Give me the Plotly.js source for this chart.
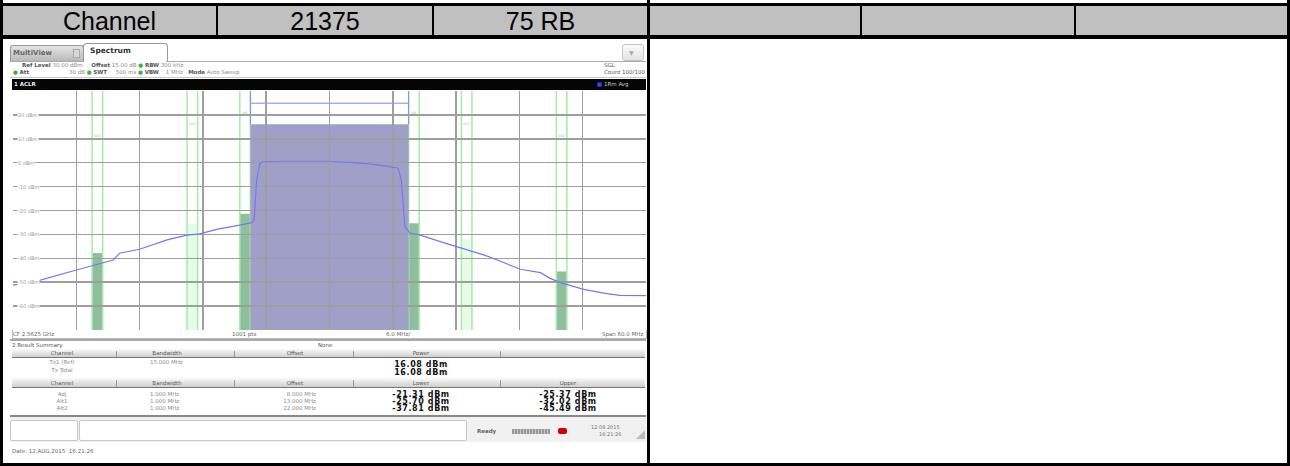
<!DOCTYPE html>
<html><head><meta charset="utf-8">
<script src="https://cdn.plot.ly/plotly-3.0.1.min.js"></script>
<style>
html,body{margin:0;padding:0;background:#fff;}
body{width:1290px;height:466px;position:relative;overflow:hidden;font-family:"DejaVu Sans",sans-serif;}
.a{position:absolute;}
.blk{position:absolute;background:#000;}
.hdr{position:absolute;top:6px;height:29px;background:#c0c0c0;font-family:"Liberation Sans",Arial,sans-serif;font-size:25px;line-height:30px;text-align:center;color:#000;}
.t{position:absolute;white-space:nowrap;font-size:5.5px;line-height:7px;color:#8a8a8a;}
.d{color:#555;font-weight:bold;}
.g{color:#3cb043;}
.c{position:absolute;white-space:nowrap;font-size:5.5px;line-height:6px;color:#8a8a8a;transform:translateX(-50%);}
.v{position:absolute;white-space:nowrap;font-size:8px;line-height:6px;color:#111;font-weight:bold;letter-spacing:0.6px;transform:translateX(-50%);}
.th{position:absolute;left:12px;width:633px;background:linear-gradient(#fafafa,#cfcfcf);border-bottom:1px solid #777;}
.sep{position:absolute;width:1px;background:#999;}
</style></head>
<body>
<div id="hdrs"></div>
<!-- spectrum screenshot chrome -->
<div class="a" style="left:10px;top:45px;width:72px;height:15px;background:linear-gradient(#e4e4e4,#b9b9b9);border:1px solid #9a9a9a;border-bottom:none;border-radius:3px 3px 0 0;"></div>
<div class="t" style="left:13px;top:49px;font-size:7px;line-height:9px;color:#666;font-weight:bold;">MultiView</div>
<div class="a" style="left:73px;top:49px;width:5px;height:7px;border:1px solid #aaa;background:#d8d8d8;"></div>
<div class="a" style="left:83px;top:43px;width:83px;height:18px;background:#fff;border:1px solid #9a9a9a;border-bottom:none;border-radius:4px 4px 0 0;"></div>
<div class="t" style="left:90px;top:46px;font-size:7.5px;line-height:9px;color:#333;font-weight:bold;">Spectrum</div>
<div class="a" style="left:166px;top:61px;width:480px;height:1px;background:#aaa;"></div>
<div class="a" style="left:10px;top:61px;width:73px;height:1px;background:#aaa;"></div>
<div class="a" style="left:622px;top:44px;width:20px;height:15px;background:linear-gradient(#fafafa,#e4e4e4);border:1px solid #c4c4c4;border-radius:3px;"></div>
<div class="t" style="left:629px;top:49px;font-size:6px;color:#aaa;">&#9660;</div>

<div class="t" style="left:22px;top:62px;"><span class="d">Ref Level</span> 30.00 dBm &nbsp;&nbsp;&nbsp;&nbsp;<span class="d">Offset</span> 15.00 dB <span class="g">&#9679;</span> <span class="d">RBW</span> 300 kHz</div>
<div class="t" style="left:13px;top:69px;"><span class="g">&#9679;</span> <span class="d">Att</span></div>
<div class="t" style="left:69px;top:69px;">30 dB <span class="g">&#9679;</span> <span class="d">SWT</span> &nbsp;&nbsp;&nbsp;&nbsp;500 ms <span class="g">&#9679;</span> <span class="d">VBW</span> &nbsp;&nbsp;&nbsp;1 MHz &nbsp;&nbsp;<span class="d">Mode</span> Auto Sweep</div>
<div class="t" style="left:604px;top:62px;color:#555;">SGL</div>
<div class="t" style="left:604px;top:69px;color:#555;">Count 100/100</div>
<div class="a" style="left:10px;top:77px;width:636px;height:1px;background:#c8c8c8;"></div>

<div class="a" style="left:12px;top:79px;width:634px;height:11px;background:#050505;"></div>
<div class="t" style="left:14px;top:81px;color:#eee;font-weight:bold;">1 ACLR</div>
<div class="t" style="left:597px;top:81px;color:#ccc;"><span style="color:#3344ff;">&#9632;</span> 1Rm Avg</div>

<div id="plot" class="a" style="left:13px;top:91px;width:633px;height:239px;"></div>

<div class="a" style="left:12px;top:330px;width:633px;height:8px;border:1px solid #b8b8b8;border-top:none;background:#fff;"></div>
<div class="t" style="left:13px;top:331px;color:#666;">CF 2.5625 GHz</div>
<div class="t" style="left:232px;top:331px;color:#666;">1001 pts</div>
<div class="t" style="left:386px;top:331px;color:#666;">6.0 MHz/</div>
<div class="t" style="left:602px;top:331px;color:#666;">Span 60.0 MHz</div>
<div class="a" style="left:10px;top:339px;width:636px;height:2px;background:#a8a8a8;"></div>
<div class="t" style="left:12px;top:342px;color:#555;">2 Result Summary</div>
<div class="t" style="left:318px;top:342px;color:#555;">None</div>

<div id="table"></div>

<div class="a" style="left:10px;top:415px;width:636px;height:2px;background:#888;"></div>
<div class="a" style="left:10px;top:417px;width:636px;height:25px;background:#f1f1f1;"></div>
<div class="a" style="left:10px;top:420px;width:66px;height:19px;background:#fff;border:1px solid #c8c8c8;border-radius:2px;"></div>
<div class="a" style="left:79px;top:420px;width:386px;height:19px;background:#fff;border:1px solid #c8c8c8;border-radius:2px;"></div>
<div class="t" style="left:477px;top:428px;color:#666;font-weight:bold;">Ready</div>
<div class="a" style="left:512px;top:429px;width:38px;height:5px;background:repeating-linear-gradient(90deg,#9a9a9a 0 2px,#c4c4c4 2px 3px);"></div>
<div class="a" style="left:558px;top:428px;width:9px;height:6px;background:#d20000;border-radius:2px;"></div>
<div class="t" style="left:591px;top:424px;color:#777;font-size:5px;">12.08.2015</div>
<div class="t" style="left:599px;top:431px;color:#777;font-size:5px;">16:21:26</div>
<div class="a" style="left:636px;top:430px;width:0;height:0;border-left:9px solid transparent;border-bottom:9px solid #bbb;"></div>
<div class="t" style="left:12px;top:448px;color:#666;">Date: 12.AUG.2015 &nbsp;16:21:26</div>

<div id="lines"></div>

<script>
// ---- header row ----
const headerCells = ['Channel', '21375', '75 RB', '', '', ''];

// ---- ACLR measurement (MHz, dBm) ----
const txName = 'Tx1 (Ref)';
const txBandwidthMHz = 15.0;
const txPowerDbm = 16.08;
const txTotalDbm = 16.08;
const adjNames = ['Adj', 'Alt1', 'Alt2'];
const adjBandwidthMHz = [1.0, 1.0, 1.0];
const adjOffsetMHz = [8.0, 13.0, 22.0];
const adjLowerDbm = [-21.31, -25.70, -37.81];
const adjUpperDbm = [-25.37, -32.02, -45.49];

// ---- spectrum trace (offset from CF in MHz, level in dBm) ----
const freqMHz = [-30.0, -27.4, -24.0, -21.8, -20.5, -19.9, -18.0, -15.4, -13.5, -12.3, -10.7, -8.5, -7.4, -7.15, -6.9, -6.6, -6.3, -4.5, -2.8, 0.0, 2.2, 4.0, 5.4, 6.5, 6.8, 7.0, 7.15, 7.6, 8.6, 10.5, 12.1, 14.9, 15.9, 18.1, 20.0, 20.9, 21.9, 24.1, 26.0, 27.5, 30.0];
const levelDbm = [-51.2, -49.1, -44.9, -42.1, -40.7, -37.9, -36.2, -32.3, -30.3, -29.8, -27.9, -26.1, -25.1, -24.0, -7.2, -0.3, 0.4, 0.6, 0.7, 0.6, 0.0, -0.6, -1.4, -2.3, -7.2, -21.2, -26.7, -29.3, -30.3, -33.0, -35.1, -39.0, -40.7, -44.6, -46.0, -48.4, -50.2, -53.0, -54.6, -55.5, -55.6];

// ---- axes ----
const spanMHz = [-30, 30];
const levelRange = [-70, 30];
const yTickVals = [20, 10, 0, -10, -20, -30, -40, -50, -60];

// ---------- HTML table frame ----------
(function(){
  const h = document.getElementById('hdrs');
  const cellX = [[3,216],[218,432],[434,647],[650,860],[862,1074],[1076,1287]];
  headerCells.forEach((txt,i)=>{
    const d = document.createElement('div');
    d.className='hdr';
    d.style.left=cellX[i][0]+'px'; d.style.width=(cellX[i][1]-cellX[i][0])+'px';
    d.textContent=txt; h.appendChild(d);
  });
  const L = document.getElementById('lines');
  const rects = [[0,3,1290,3],[0,35,1290,4],[0,0,3,466],[1287,0,3,466],[0,463,1290,3],
                 [216,3,2,33],[432,3,2,33],[860,3,2,33],[1074,3,2,33],[647,0,3,466]];
  rects.forEach(r=>{const d=document.createElement('div');d.className='blk';
    d.style.left=r[0]+'px';d.style.top=r[1]+'px';d.style.width=r[2]+'px';d.style.height=r[3]+'px';L.appendChild(d);});
})();

// ---------- result summary table ----------
(function(){
  const T = document.getElementById('table');
  const add = (cls, x, y, txt, extra) => {const d=document.createElement('div');d.className=cls;d.style.left=x+'px';d.style.top=y+'px';d.textContent=txt;if(extra)d.style.cssText+=extra;T.appendChild(d);return d;};
  const bar = (y,h) => {const d=document.createElement('div');d.className='th';d.style.top=y+'px';d.style.height=h+'px';T.appendChild(d);
     [116,234,353,500].forEach(x=>{const s=document.createElement('div');s.className='sep';s.style.left=x+'px';s.style.top=(y+2)+'px';s.style.height=(h-2)+'px';T.appendChild(s);});};
  const colC = [62, 167, 295, 421, 568];
  bar(349,8);
  ['Channel','Bandwidth','Offset','Power'].forEach((t,i)=>add('c',colC[i],350,t,'color:#555;'));
  add('c',colC[0],359,txName); add('t',150,359,txBandwidthMHz.toFixed(3)+' MHz','line-height:6px;');
  add('v',colC[3],362,txPowerDbm.toFixed(2)+' dBm');
  add('c',colC[0],367,'Tx Total'); add('v',colC[3],370,txTotalDbm.toFixed(2)+' dBm');
  bar(378,9);
  ['Channel','Bandwidth','Offset','Lower','Upper'].forEach((t,i)=>add('c',colC[i],380,t,'color:#555;'));
  adjNames.forEach((n,i)=>{
    const y = 391 + i*7;
    add('c',colC[0],y,n);
    add('t',150,y,adjBandwidthMHz[i].toFixed(3)+' MHz','line-height:6px;');
    const o=add('t',0,y,adjOffsetMHz[i].toFixed(3)+' MHz','line-height:6px;'); o.style.left='auto'; o.style.right=(1290-316)+'px';
    add('v',colC[3],y+1,adjLowerDbm[i].toFixed(2)+' dBm');
    add('v',colC[4],y+1,adjUpperDbm[i].toFixed(2)+' dBm');
  });
})();

// ---------- spectrum plot ----------
const shapes = [];
const annotations = [];
const greenLine = '#a4eca4';
const adjFill = ['#8fbf9f', '#e8fbe8', '#8fbf9f'];
const labelLevel = [21, 16, 11];
adjNames.forEach((n,i)=>{
  [[-1, adjLowerDbm[i]], [1, adjUpperDbm[i]]].forEach(([s,p])=>{
    const c = s*adjOffsetMHz[i];
    const x0 = c - adjBandwidthMHz[i]/2, x1 = c + adjBandwidthMHz[i]/2;
    shapes.push({type:'rect', xref:'x', yref:'y', x0:x0, x1:x1, y0:levelRange[0], y1:p,
                 fillcolor:adjFill[i], line:{width:0}, layer:'below'});
    [x0,x1].forEach(x=>shapes.push({type:'line', xref:'x', yref:'y', x0:x, x1:x, y0:levelRange[0], y1:levelRange[1],
                 line:{color:greenLine, width:1.5}, layer:'below'}));
    annotations.push({x:c, y:labelLevel[i], xref:'x', yref:'y', text:n, showarrow:false,
                 font:{size:3.5, color:'#9ccc9c', family:'DejaVu Sans'}});
  });
});
shapes.push({type:'rect', xref:'x', yref:'y', x0:-txBandwidthMHz/2, x1:txBandwidthMHz/2,
             y0:levelRange[0], y1:txPowerDbm, fillcolor:'#a09fc7', line:{width:0}, layer:'below'});
[-txBandwidthMHz/2, txBandwidthMHz/2].forEach(x=>shapes.push({type:'line', xref:'x', yref:'y', x0:x, x1:x,
             y0:txPowerDbm, y1:levelRange[1], line:{color:'#8585ff', width:1}, layer:'below'}));
shapes.push({type:'line', xref:'x', yref:'y', x0:-txBandwidthMHz/2, x1:txBandwidthMHz/2, y0:24.9, y1:24.9,
             line:{color:'#8585ff', width:1}, layer:'below'});
yTickVals.forEach(v=>annotations.push({x:0.006, xref:'paper', xanchor:'left', y:v, yref:'y', text:v+' dBm',
             showarrow:false, bgcolor:'#ffffff', borderpad:0, font:{size:5, color:'#9a9a9a', family:'DejaVu Sans'}}));

Plotly.newPlot('plot', [{
  type:'scatter', mode:'lines', x:freqMHz, y:levelDbm,
  line:{color:'#7777f4', width:1.2}, hoverinfo:'skip'
}], {
  width:633, height:239, margin:{l:0,r:0,t:0,b:0},
  paper_bgcolor:'#ffffff', plot_bgcolor:'#ffffff', showlegend:false,
  xaxis:{range:spanMHz, tickmode:'linear', tick0:-30, dtick:6, showticklabels:false, ticks:'',
         showgrid:true, gridcolor:'#9e9e9e', gridwidth:1.5, zeroline:false,
         showline:true, mirror:true, linecolor:'#b0b0b0', linewidth:1},
  yaxis:{range:levelRange, tickmode:'linear', tick0:-70, dtick:10, showticklabels:false, ticks:'',
         showgrid:true, gridcolor:'#9e9e9e', gridwidth:1.5, zeroline:false,
         showline:true, mirror:true, linecolor:'#b0b0b0', linewidth:1},
  shapes:shapes, annotations:annotations
}, {staticPlot:true, displayModeBar:false});
</script>
</body></html>
